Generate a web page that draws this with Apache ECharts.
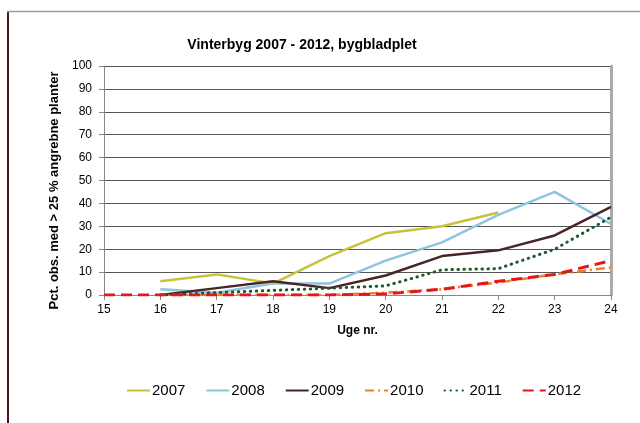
<!DOCTYPE html>
<html>
<head>
<meta charset="utf-8">
<script src="https://cdn.jsdelivr.net/npm/echarts@6/dist/echarts.min.js"></script>
<style>html,body{margin:0;padding:0;background:#fff}#c{width:640px;height:423px}</style>
</head>
<body>
<div id="c"></div>
<script>
var weeks = [15, 16, 17, 18, 19, 20, 21, 22, 23, 24];
var y2007 = [null, 6, 9, 5, 17, 27, 30, 36, null, null];
var y2008 = [null, 2.5, 1, 5, 5, 15, 23, 35, 45, 31];
var y2009 = [null, 0, 3, 6, 3, 8.5, 17, 19.5, 26, 38.5];
var y2010 = [null, 0, 0, 0, 0, 1, 2.5, 5.5, 9, 12];
var y2011 = [null, 0, 1, 2, 3, 4, 11, 11.5, 20, 34];
var y2012 = [0, 0, 0, 0, 0, 0.5, 2.5, 6, 9, 15];
var yTicks = [0, 10, 20, 30, 40, 50, 60, 70, 80, 90, 100];

function pairs(v) {
  var out = [];
  for (var i = 0; i < weeks.length; i++) if (v[i] !== null) out.push([weeks[i], v[i]]);
  return out;
}
function mk(name, vals, color, width, type, cap) {
  return {
    name: name, type: 'line', data: pairs(vals), symbol: 'none', silent: true,
    lineStyle: { color: color, width: width, type: type, cap: cap || 'butt' },
    itemStyle: { color: color }
  };
}
var chart = echarts.init(document.getElementById('c'), null, { renderer: 'canvas' });
chart.setOption({
  animation: false,
  backgroundColor: '#fff',
  title: {
    text: 'Vinterbyg 2007 - 2012, bygbladplet',
    left: 297, top: 33, textAlign: 'center',
    textStyle: { fontFamily: 'Liberation Sans, Arial', fontSize: 14, fontWeight: 'bold', color: '#000' }
  },
  legend: {
    left: 121, top: 378, itemWidth: 23, itemHeight: 14, itemGap: 20,
    itemStyle: { opacity: 0 },
    textStyle: { fontFamily: 'Liberation Sans, Arial', fontSize: 15, color: '#000', padding: [0, 0, 0, -3] },
    data: ['2007', '2008', '2009', '2010', '2011', '2012']
  },
  grid: { left: 104, right: 29, top: 66, bottom: 128 },
  xAxis: {
    type: 'value', min: 15, max: 24, interval: 1,
    name: 'Uge nr.', nameLocation: 'middle', nameGap: 30,
    nameTextStyle: { fontFamily: 'Liberation Sans, Arial', fontSize: 12, fontWeight: 'bold', color: '#000' },
    axisLine: { show: true, lineStyle: { color: '#888', width: 1 } },
    axisTick: { show: true, length: 5, lineStyle: { color: '#888' } },
    axisLabel: { fontFamily: 'Liberation Sans, Arial', fontSize: 12, color: '#000', margin: 9 },
    splitLine: { show: false }
  },
  yAxis: [{
    type: 'value', min: 0, max: 100, interval: 10,
    name: 'Pct. obs. med > 25 % angrebne planter', nameLocation: 'middle', nameGap: 42,
    nameTextStyle: { fontFamily: 'Liberation Sans, Arial', fontSize: 13, fontWeight: 'bold', color: '#000', padding: [0, 20, 0, 0] },
    axisLine: { show: true, lineStyle: { color: '#888', width: 1 } },
    axisTick: { show: true, length: 5, lineStyle: { color: '#888' } },
    axisLabel: { fontFamily: 'Liberation Sans, Arial', fontSize: 12, color: '#000', margin: 12,
      formatter: function (v) { return yTicks.indexOf(v) >= 0 ? String(v) : ''; } },
    splitLine: { show: true, lineStyle: { color: '#555', width: 1 } }
  }, {
    type: 'value', min: 0, max: 100, interval: 10, position: 'right',
    axisLine: { show: true, lineStyle: { color: '#aaa', width: 3 } },
    axisTick: { show: false }, axisLabel: { show: false }, splitLine: { show: false }
  }],
  series: [
    mk('2007', y2007, '#c8c13c', 2.5, 'solid'),
    mk('2008', y2008, '#8cc5dd', 2.5, 'solid'),
    mk('2009', y2009, '#4a2426', 2.5, 'solid'),
    mk('2010', y2010, '#e8832a', 2.5, [9, 4, 2, 4]),
    mk('2011', y2011, '#1c5a2c', 3, [0.5, 5.5], 'round'),
    mk('2012', y2012, '#e5161c', 3, [11, 6])
  ],
  graphic: [
    { type: 'line', silent: true, shape: { x1: 8, y1: 11, x2: 8, y2: 423 }, style: { stroke: '#4a1414', lineWidth: 2 } },
    { type: 'line', silent: true, shape: { x1: 7, y1: 11.5, x2: 640, y2: 11.5 }, style: { stroke: '#a09898', lineWidth: 1.5 } }
  ]
});
</script>
</body>
</html>
